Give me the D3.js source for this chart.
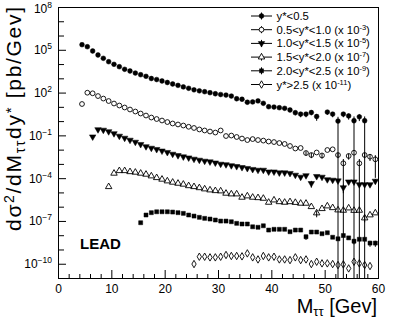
<!DOCTYPE html>
<html><head><meta charset="utf-8">
<script src="https://cdn.jsdelivr.net/npm/d3@7"></script>
<style>body{margin:0;background:#fff} svg{display:block} text{font-family:"Liberation Sans",Arial,Helvetica,sans-serif;fill:#000}</style>
</head><body><svg id="c" width="399" height="319"></svg>
<script>
// ---- data ----
const massBins = [4.5,5.5,6.5,7.5,8.5,9.5,10.5,11.5,12.5,13.5,14.5,15.5,16.5,17.5,18.5,19.5,20.5,21.5,22.5,23.5,
  24.5,25.5,26.5,27.5,28.5,29.5,30.5,31.5,32.5,33.5,34.5,35.5,36.5,37.5,38.5,39.5,40.5,41.5,42.5,43.5,
  44.5,45.5,46.5,47.5,48.5,49.5,50.5,51.5,52.5,53.5,54.5,55.5,56.5,57.5,58.5,59.5];
const seriesLabels = ["y*<0.5","0.5<y*<1.0","1.0<y*<1.5","1.5<y*<2.0","2.0<y*<2.5","y*>2.5"];
const scaleExp = [0,-3,-5,-7,-9,-11];
const s1 = [2.27e5,1.64e5,8.2e4,4.3e4,2.53e4,1.46e4,9.6e3,6.5e3,4.3e3,3.25e3,
  2.35e3,1.79e3,1.38e3,9.7e2,8.2e2,6.5e2,5.1e2,4.0e2,3.2e2,2.5e2,
  2.0e2,1.56e2,1.33e2,1.15e2,98,83,73,67,57,37,
  34,21,22,26,17.7,10.2,9.7,8.7,7.9,6.0,
  3.9,3.1,3.1,4.0,2.1,null,4.3,3.1,1.0,3.1,
  2.3,1.06,2.0,1.06,null,null];
const s2 = [1.58e4,9.8e4,8.9e4,5.7e4,3.8e4,2.56e4,1.71e4,1.24e4,9.0e3,6.5e3,
  4.7e3,3.4e3,2.46e3,1.78e3,1.40e3,1.10e3,8.6e2,6.8e2,5.8e2,4.9e2,
  4.0e2,3.3e2,2.6e2,2.2e2,1.86e2,1.58e2,2.2e2,90,97,77,
  60,47,55,47,43,37,34,29,25,18,
  12,13,5.8,4.2,6.3,3.9,9.4,10.5,4.2,1.1,
  3.6,6.1,1.1,4.2,3.2,2.1];
const s3 = [null,null,8.0e3,2.57e4,2.37e4,1.86e4,1.35e4,9.0e3,6.5e3,4.7e3,
  3.4e3,2.36e3,1.65e3,1.29e3,1.05e3,8.2e2,6.5e2,4.9e2,3.9e2,3.2e2,
  2.7e2,2.2e2,1.87e2,1.59e2,1.42e2,1.19e2,98,90,77,67,
  57,49,42,37,37,28,28,24,24,22,
  16.6,12.0,15.3,4.3,13.4,12.0,8.0,7.4,6.6,2.2,
  5.6,5.6,3.6,3.6,3.6,6.3];
const s4 = [null,null,null,null,null,2.5e2,2.18e3,3.3e3,3.3e3,2.8e3,
  2.56e3,2.18e3,1.85e3,1.41e3,1.07e3,8.3e2,6.3e2,5.1e2,4.3e2,3.7e2,
  2.9e2,2.5e2,2.1e2,1.73e2,1.47e2,1.31e2,1.25e2,86,77,77,
  45,56,45,42,38,20,29,22,20,22,
  19.5,17.1,17.1,9.9,3.6,7.2,11.1,8.4,5.8,5.5,
  8.0,5.4,5.5,1.6,2.6,3.6];
const s5 = [null,null,null,null,null,null,null,null,null,null,
  null,75,2.6e2,3.8e2,4.4e2,4.4e2,4.4e2,4.2e2,3.8e2,3.4e2,
  2.6e2,2.2e2,1.79e2,1.52e2,1.36e2,1.16e2,98,98,88,68,
  61,61,39,36,46,23,26,26,26,17.5,
  23,23,7.8,16.7,16.7,12.7,14.9,7.2,5.6,9.5,
  6.5,3.8,5.2,5.2,2.8,2.8];
const s6 = [null,null,null,null,null,null,null,null,null,null,
  null,null,null,null,null,null,null,null,null,null,
  null,9.5,31,31,28,28,31,41,35,35,
  33,53,28,20,35,28,31,20,20,18,
  28,18,20,9.5,13.8,10.6,10.6,9.5,8.1,9.0,
  4.7,13.8,10.6,8.1,6.9,null];
// relative errors [mass, relErr] for the points whose bars show
const err1 = [[39.5,0.2],[40.5,0.2],[41.5,0.22],[42.5,0.22],[43.5,0.25],[44.5,0.35],[45.5,0.4],[46.5,0.4],[47.5,0.35],[48.5,0.5],[50.5,0.35],[51.5,0.4],[52.5,1],[53.5,0.4],[54.5,0.45],[55.5,1],[56.5,0.5],[57.5,1]];
const err2 = [[46.5,0.35],[47.5,0.4],[49.5,0.4],[52.5,0.4],[53.5,1],[54.5,0.45],[56.5,1],[57.5,0.4],[58.5,0.5],[59.5,0.95]];
const err3 = [[47.5,0.5],[53.5,0.6],[59.5,0.4]];
const err4 = [[48.5,0.5],[57.5,0.5]];
const err5 = [[46.5,0.4],[55.5,0.4],[58.5,0.45],[59.5,0.45]];
const err6 = [];
const xTicks = [0,10,20,30,40,50,60];
const yLabelExp = [8,5,2,-1,-4,-7,-10];

// ---- chart ----
const series = [s1,s2,s3,s4,s5,s6];
const errs = [err1,err2,err3,err4,err5,err6];
const svg = d3.select("#c");
const L=58, R=378, T=7, B=278;
const x = d3.scaleLinear().domain([0,60]).range([L,R]);
const y = d3.scaleLog().domain([1e-11,1e8]).range([B,T]);

const styles = [
  {sym:d3.symbolCircle, size:18, fill:"#000", rot:0},
  {sym:d3.symbolCircle, size:18, fill:"none", rot:0},
  {sym:d3.symbolTriangle, size:18, fill:"#000", rot:180},
  {sym:d3.symbolTriangle, size:18, fill:"none", rot:0},
  {sym:d3.symbolSquare, size:16, fill:"#000", rot:0},
  {sym:d3.symbolDiamond, size:16, fill:"none", rot:0}
];

// axes
const decades = d3.range(-11,9).map(e=>Math.pow(10,e));
const yAx = svg.append("g").attr("transform",`translate(${L},0)`)
  .call(d3.axisLeft(y).tickValues(decades).tickSize(-6).tickFormat(""));
yAx.select(".domain").remove();
yAx.selectAll(".tick line").attr("stroke","#000")
  .attr("x2", d => yLabelExp.includes(Math.round(Math.log10(d))) ? 8 : 6);

const xMinor = d3.range(0,61,2).filter(v=>v%10!==0);
const xAxMinor = svg.append("g").attr("transform",`translate(0,${B})`)
  .call(d3.axisBottom(x).tickValues(xMinor).tickSize(-4).tickFormat(""));
xAxMinor.select(".domain").remove();
const xAx = svg.append("g").attr("transform",`translate(0,${B})`)
  .call(d3.axisBottom(x).tickValues(xTicks).tickSize(-8).tickPadding(6.5).tickFormat(d3.format("d")));
xAx.select(".domain").remove();
svg.selectAll(".tick line").attr("stroke","#000");
xAx.selectAll("text").attr("font-size",12).attr("font-family",'"Liberation Sans",Arial,sans-serif').attr("fill","#000");

// y labels
const yl = svg.append("g");
yLabelExp.forEach(e=>{
  const t = yl.append("text").attr("x",52).attr("y",y(Math.pow(10,e))+ (e===8?5.5:4.5))
    .attr("text-anchor","end").attr("font-size",12);
  t.append("tspan").text("10");
  t.append("tspan").attr("font-size",8.5).attr("dy",-5).text(e<0 ? "\u2212"+(-e) : String(e));
});

// frame
svg.append("rect").attr("x",L).attr("y",T).attr("width",R-L).attr("height",B-T)
  .attr("fill","none").attr("stroke","#000").attr("stroke-width",1).attr("shape-rendering","crispEdges");

// error bars
const plot = svg.append("g");
errs.forEach((arr,si)=>{
  const f = Math.pow(10,scaleExp[si]);
  arr.forEach(([m,rel])=>{
    const i = massBins.indexOf(m);
    const v = series[si][i];
    if (v==null) return;
    const pv = v*f;
    const lo = pv*(1-rel);
    const y1 = lo<=1e-11 ? B : y(lo);
    const y2 = y(pv*(1+rel));
    plot.append("line").attr("x1",x(m)).attr("x2",x(m)).attr("y1",y1).attr("y2",y2)
      .attr("stroke","#000").attr("stroke-width",1);
  });
});

// markers
series.forEach((arr,si)=>{
  const f = Math.pow(10,scaleExp[si]);
  const st = styles[si];
  const path = d3.symbol().type(st.sym).size(st.size)();
  plot.selectAll(null).data(massBins.map((m,i)=>[m,arr[i]]).filter(d=>d[1]!=null))
    .enter().append("path").attr("d",path)
    .attr("transform",d=>`translate(${x(d[0])},${y(d[1]*f)}) rotate(${st.rot})`)
    .attr("fill",st.fill).attr("stroke","#000").attr("stroke-width",st.fill==="none"?0.9:0.5);
});

// legend
const lg = svg.append("g");
seriesLabels.forEach((lab,i)=>{
  const yy = 16 + 13.7*i;
  const st = styles[i];
  lg.append("line").attr("x1",251).attr("x2",272).attr("y1",yy).attr("y2",yy).attr("stroke","#000");
  lg.append("line").attr("x1",261.5).attr("x2",261.5).attr("y1",yy-3.5).attr("y2",yy+3.5).attr("stroke","#000");
  lg.append("path").attr("d",d3.symbol().type(st.sym).size(st.size)())
    .attr("transform",`translate(261.5,${yy}) rotate(${st.rot})`)
    .attr("fill",st.fill==="none"?"#fff":st.fill).attr("stroke","#000").attr("stroke-width",st.fill==="none"?0.9:0.5);
  const t = lg.append("text").attr("x",276.5).attr("y",yy+4).attr("font-size",11.3);
  t.append("tspan").text(lab);
  if (scaleExp[i]!==0){
    t.append("tspan").text(" (x 10");
    t.append("tspan").attr("font-size",7.5).attr("dy",-4).text(String(scaleExp[i]));
    t.append("tspan").attr("dy",4).text(")");
  }
});

// LEAD
svg.append("text").attr("x",80).attr("y",249).attr("font-size",15).attr("font-weight","bold").text("LEAD");

// axis titles
const xt = svg.append("text").attr("x",377).attr("y",312.5).attr("text-anchor","end").attr("font-size",20);
xt.append("tspan").text("M");
xt.append("tspan").attr("font-size",13).attr("dy",3.5).text("\u03c4\u03c4");
xt.append("tspan").attr("dy",-3.5).text(" [Gev]");

const yt = svg.append("text").attr("transform","translate(21,7) rotate(-90)").attr("text-anchor","end")
  .attr("font-size",21).attr("textLength",224).attr("lengthAdjust","spacing");
yt.append("tspan").text("d\u03c3");
yt.append("tspan").attr("font-size",14).attr("dy",-7).text("2");
yt.append("tspan").attr("dy",7).text("/dM");
yt.append("tspan").attr("font-size",14).attr("dy",4).text("\u03c4\u03c4");
yt.append("tspan").attr("dy",-4).text("dy");
yt.append("tspan").attr("font-size",15).attr("dy",-5).text("*");
yt.append("tspan").attr("dy",5).text(" [pb/Gev]");
</script></body></html>
